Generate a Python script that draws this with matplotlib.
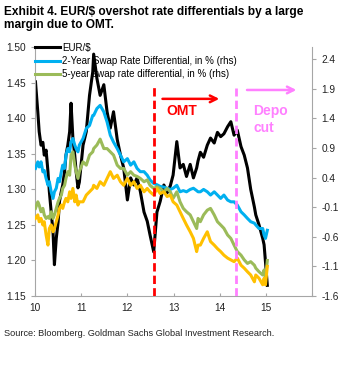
import matplotlib
matplotlib.use("Agg")
import matplotlib.pyplot as plt

plt.rcParams['font.family'] = ['Liberation Sans', 'DejaVu Sans']

# ---- data ----
years = [10.01, 10.06, 10.09, 10.13, 10.17, 10.20, 10.24, 10.28, 10.31, 10.35,
         10.39, 10.42, 10.46, 10.50, 10.53, 10.57, 10.60, 10.64, 10.67, 10.71,
         10.75, 10.78, 10.82, 10.86, 10.89, 10.93, 10.96, 11.04, 11.11, 11.18,
         11.25, 11.27, 11.34, 11.41, 11.49, 11.56, 11.63, 11.70, 11.78, 11.85,
         11.92, 12.00, 12.07, 12.14, 12.21, 12.28, 12.36, 12.43, 12.49, 12.57,
         12.64, 12.71, 12.79, 12.86, 12.93, 12.99, 13.07, 13.14, 13.21, 13.28,
         13.36, 13.43, 13.50, 13.53, 13.58, 13.65, 13.73, 13.80, 13.88, 13.95,
         14.02, 14.09, 14.17, 14.24, 14.31, 14.38, 14.46, 14.53, 14.60, 14.67,
         14.75, 14.78, 14.85, 14.93, 14.96, 14.99, 15.03]

eurusd = [1.451, 1.409, 1.381, 1.362, 1.366, 1.348, 1.355, 1.325, 1.297, 1.268,
          1.240, 1.194, 1.231, 1.254, 1.283, 1.297, 1.306, 1.325, 1.348, 1.362,
          1.381, 1.421, 1.372, 1.348, 1.325, 1.302, 1.310, 1.362, 1.381, 1.432,
          1.465, 1.490, 1.456, 1.432, 1.447, 1.409, 1.386, 1.409, 1.370, 1.348,
          1.330, 1.285, 1.316, 1.306, 1.316, 1.297, 1.268, 1.255, 1.236, 1.212,
          1.268, 1.283, 1.306, 1.295, 1.305, 1.320, 1.367, 1.330, 1.335, 1.318,
          1.335, 1.316, 1.330, 1.340, 1.352, 1.345, 1.362, 1.372, 1.365, 1.380,
          1.374, 1.378, 1.388, 1.395, 1.376, 1.383, 1.360, 1.348, 1.330, 1.300,
          1.275, 1.264, 1.250, 1.231, 1.222, 1.198, 1.165]

swap2y = [0.555, 0.666, 0.58, 0.666, 0.497, 0.52, 0.386, 0.273, 0.33, 0.16,
          0.048, 0.16, 0.22, 0.386, 0.33, 0.497, 0.61, 0.555, 0.78, 0.89,
          0.835, 1.003, 1.06, 0.95, 0.89, 0.835, 0.95, 1.06, 1.23, 1.28,
          1.45, 1.45, 1.566, 1.62, 1.51, 1.34, 1.116, 1.0, 0.89, 0.78,
          0.666, 0.72, 0.61, 0.666, 0.555, 0.5, 0.5, 0.44, 0.36, 0.30,
          0.28, 0.25, 0.24, 0.22, 0.20, 0.22, 0.27, 0.16, 0.18, 0.16,
          0.20, 0.22, 0.18, 0.16, 0.16, 0.20, 0.16, 0.105, 0.16, 0.105,
          0.049, 0.105, 0.02, -0.009, -0.009, -0.064, -0.177, -0.23, -0.29, -0.345,
          -0.37, -0.40, -0.46, -0.46, -0.57, -0.627, -0.49]

swap5y = [-0.12, -0.009, -0.064, -0.177, -0.12, -0.23, -0.29, -0.26, -0.29, -0.177,
          -0.29, -0.23, -0.12, -0.009, 0.049, 0.105, 0.217, 0.27, 0.386, 0.5,
          0.44, 0.78, 0.835, 0.61, 0.5, 0.386, 0.5, 0.666, 0.61, 0.78,
          0.835, 0.89, 0.95, 1.05, 0.89, 0.89, 0.835, 0.78, 0.61, 0.555,
          0.555, 0.44, 0.5, 0.44, 0.42, 0.386, 0.33, 0.36, 0.27, 0.217,
          0.245, 0.217, 0.16, 0.217, 0.16, 0.049, 0.16, -0.009, -0.12, -0.177,
          -0.23, -0.345, -0.46, -0.29, -0.345, -0.23, -0.15, -0.12, -0.23, -0.345,
          -0.40, -0.457, -0.57, -0.627, -0.74, -0.85, -0.91, -0.99, -1.05, -1.02,
          -1.08, -1.13, -1.19, -1.245, -1.16, -1.30, -1.0]

swap10y = [-0.29, -0.23, -0.345, -0.29, -0.40, -0.345, -0.57, -0.74, -0.46, -0.40,
           -0.515, -0.46, -0.345, -0.23, -0.12, -0.064, -0.12, -0.009, 0.049, -0.009,
           0.16, 0.049, 0.217, -0.009, 0.105, -0.064, -0.009, -0.009, 0.105, 0.16,
           0.217, 0.27, 0.217, 0.33, 0.27, 0.386, 0.5, 0.386, 0.44, 0.33,
           0.27, 0.386, 0.27, 0.33, 0.217, 0.27, 0.16, 0.217, 0.16, 0.105,
           0.217, 0.13, 0.16, 0.08, 0.105, -0.009, -0.064, -0.177, -0.29, -0.40,
           -0.515, -0.627, -0.85, -0.74, -0.74, -0.627, -0.515, -0.68, -0.74, -0.80,
           -0.85, -0.91, -0.96, -0.99, -1.02, -0.96, -1.08, -1.13, -1.19, -1.245,
           -1.36, -1.245, -1.30, -1.41, -1.30, -1.41, -1.10]

labels = ["EUR/$", "2-Year Swap Rate Differential, in % (rhs)",
          "5-year swap rate differential, in % (rhs)"]
x_ticks = [10, 11, 12, 13, 14, 15, 16]
x_ticklabels = ["10", "11", "12", "13", "14", "15", ""]
left_ticks = [1.15, 1.20, 1.25, 1.30, 1.35, 1.40, 1.45, 1.50]
right_ticks = [-1.6, -1.1, -0.6, -0.1, 0.4, 0.9, 1.4, 1.9, 2.4]
omt_date = 12.58
depo_date = 14.36

title = "Exhibit 4. EUR/$ overshot rate differentials by a large\nmargin due to OMT."
source = "Source: Bloomberg. Goldman Sachs Global Investment Research."

# ---- figure ----
fig = plt.figure(figsize=(3.53, 3.70), dpi=100)
ax = fig.add_axes([0.0992, 0.20, 0.785, 0.673])
ax2 = ax.twinx()

c_black = "#000000"
c_blue = "#00B0F0"
c_green = "#9BBB59"
c_orange = "#FFC000"
c_red = "#FF0000"
c_pink = "#FF80FF"
gray = "#A6A6A6"
lw = 2.2

l1, = ax.plot(years, eurusd, color=c_black, lw=lw, label=labels[0])
l2, = ax2.plot(years, swap2y, color=c_blue, lw=lw, label=labels[1])
l3, = ax2.plot(years, swap5y, color=c_green, lw=lw, label=labels[2])
ax2.plot(years, swap10y, color=c_orange, lw=lw)

ax.set_xlim(10, 16)
ax.set_ylim(1.15, 1.50)
ax2.set_ylim(-1.6, 2.606)

ax.set_xticks(x_ticks)
ax.set_xticklabels(x_ticklabels)
ax.set_yticks(left_ticks)
ax.set_yticklabels([f"{v:.2f}" for v in left_ticks])
ax2.set_yticks(right_ticks)
ax2.set_yticklabels([f"{v:.1f}" for v in right_ticks])

for a in (ax, ax2):
    for s in a.spines.values():
        s.set_color(gray)
        s.set_linewidth(0.8)
    a.spines['top'].set_visible(False)
    a.tick_params(colors=gray, labelcolor="#222222", labelsize=7.3, length=3, width=0.8)
ax.tick_params(axis='x', direction='in', length=2, pad=5)
ax2.spines['left'].set_visible(False)
ax2.spines['bottom'].set_visible(False)
ax.spines['right'].set_visible(False)

# event lines (vertical extent as fraction of axes height)
ax2.axvline(omt_date, ymin=0, ymax=1 - 38 / 249,
            color=c_red, lw=2.0, ls=(0, (3, 1.5)), zorder=5)
ax2.axvline(depo_date, ymin=0, ymax=1 - 41 / 249,
            color=c_pink, lw=2.0, ls=(0, (3, 1.5)), zorder=5)

# annotations (rhs data coords)
ax2.annotate("", xy=(14.05, 1.73), xytext=(12.70, 1.73),
             arrowprops=dict(arrowstyle="->", color=c_red, lw=1.8,
                             mutation_scale=12))
ax2.text(12.85, 1.52, "OMT", color=c_red, fontsize=10, fontweight="bold",
         va="center", ha="left")
ax2.annotate("", xy=(15.72, 1.88), xytext=(14.53, 1.88),
             arrowprops=dict(arrowstyle="->", color=c_pink, lw=1.8,
                             mutation_scale=12))
ax2.text(14.72, 1.52, "Depo", color=c_pink, fontsize=10, fontweight="bold",
         va="center", ha="left")
ax2.text(14.72, 1.235, "cut", color=c_pink, fontsize=10, fontweight="bold",
         va="center", ha="left")

leg = ax2.legend(handles=[l1, l2, l3], loc="upper left", bbox_to_anchor=(0.0, 1.018),
                 frameon=False, fontsize=7, handlelength=2.6, handletextpad=0.15,
                 labelspacing=0.35, borderaxespad=0.0, borderpad=0.0)
for h in leg.get_lines():
    h.set_linewidth(2.2)

fig.text(4 / 353, 1 - 6 / 370, title, fontsize=8.6, fontweight="bold",
         va="top", ha="left", linespacing=1.15)
fig.text(4 / 353, 1 - 333 / 370, source, fontsize=6.6, va="center", ha="left",
         color="#222222")

fig.savefig("out.png", dpi=100)
